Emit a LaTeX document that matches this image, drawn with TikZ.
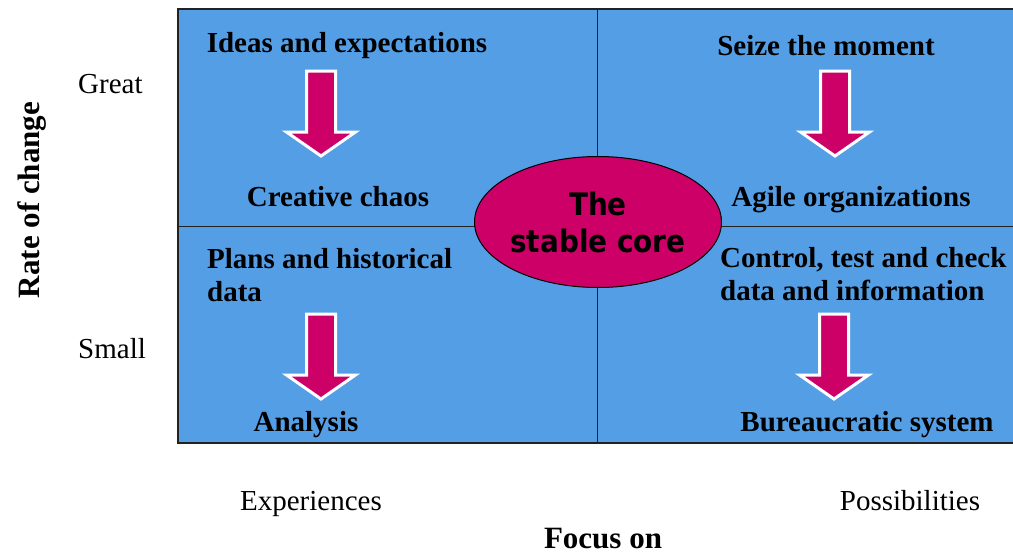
\documentclass[tikz,border=0pt]{standalone}
\usepackage{fontspec}
\setmainfont{Liberation Serif}
\newfontfamily\ellfont[FakeStretch=0.9]{DejaVu Sans}
\usetikzlibrary{shapes.geometric}
\definecolor{quadblue}{RGB}{84,158,230}
\definecolor{coremag}{RGB}{204,0,102}
\definecolor{framecol}{RGB}{34,34,34}
\tikzset{
  lbl/.style={font=\fontsize{29}{33}\selectfont\bfseries, inner sep=0pt, text=black},
  lbll/.style={lbl, align=left},
  axlbl/.style={font=\fontsize{29}{33}\selectfont, inner sep=0pt},
  axtitle/.style={font=\fontsize{31}{35}\selectfont\bfseries, inner sep=0pt},
  downarr/.pic={\draw[fill=coremag, draw=white, line width=3pt, line join=miter]
     (-14.5,0) -- (14.5,0) -- (14.5,61) -- (34.5,61) -- (0,85) -- (-34.5,61) -- (-14.5,61) -- cycle;}
}
\begin{document}
\begin{tikzpicture}[x=1pt,y=-1pt]
\useasboundingbox (0,0) rectangle (1013,554);
\begin{scope}
\clip (0,0) rectangle (1013,554);
% quadrant field
\fill[quadblue] (178,9) rectangle (1020,443);
\draw[framecol, line width=0.9pt] (178,226) -- (1020,226);
\draw[framecol, line width=0.9pt] (597,9) -- (597,443);
\draw[framecol, line width=2.2pt] (178,9) rectangle (1020,443);
\end{scope}

% arrows
\pic at (321,71) {downarr};
\pic at (835,71) {downarr};
\pic at (834,314) {downarr};
\pic at (321,314) {downarr};

% quadrant texts
\node[lbl, anchor=base] (ideas) at (347,52) {Ideas and expectations};
\node[lbl, anchor=base] (chaos) at (338,206) {Creative chaos};
\node[lbl, anchor=base] (seize) at (826,55) {Seize the moment};
\node[lbl, anchor=base] (agile) at (851,206) {Agile organizations};
\node[lbll, anchor=base west] (plans) at (207,301) {Plans and historical\\data};
\node[lbl, anchor=base] (analysis) at (306,431) {Analysis};
\node[lbll, anchor=base west] (control) at (720,300) {Control, test and check\\data and information};
\node[lbl, anchor=base] (bureau) at (867,431) {Bureaucratic system};

% core
\node[ellipse, draw=black, line width=1pt, fill=coremag, minimum width=247pt, minimum height=131pt, inner sep=0pt] (core) at (598,222) {};
\node[font=\ellfont\fontsize{31}{37}\selectfont\bfseries, align=center, anchor=base, inner sep=0pt] (coretext) at (598,252) {The\\stable core};

% axes
\node[axlbl, anchor=base west] (great) at (78,93) {Great};
\node[axlbl, anchor=base west] (small) at (78,358) {Small};
\node[axtitle, rotate=90, anchor=base] (rate) at (39,200) {Rate of change};
\node[axlbl, anchor=base] (exp) at (311,510) {Experiences};
\node[axlbl, anchor=base] (poss) at (910,510) {Possibilities};
\node[axtitle, anchor=base] (focus) at (603,548) {Focus on};
\end{tikzpicture}
\end{document}
